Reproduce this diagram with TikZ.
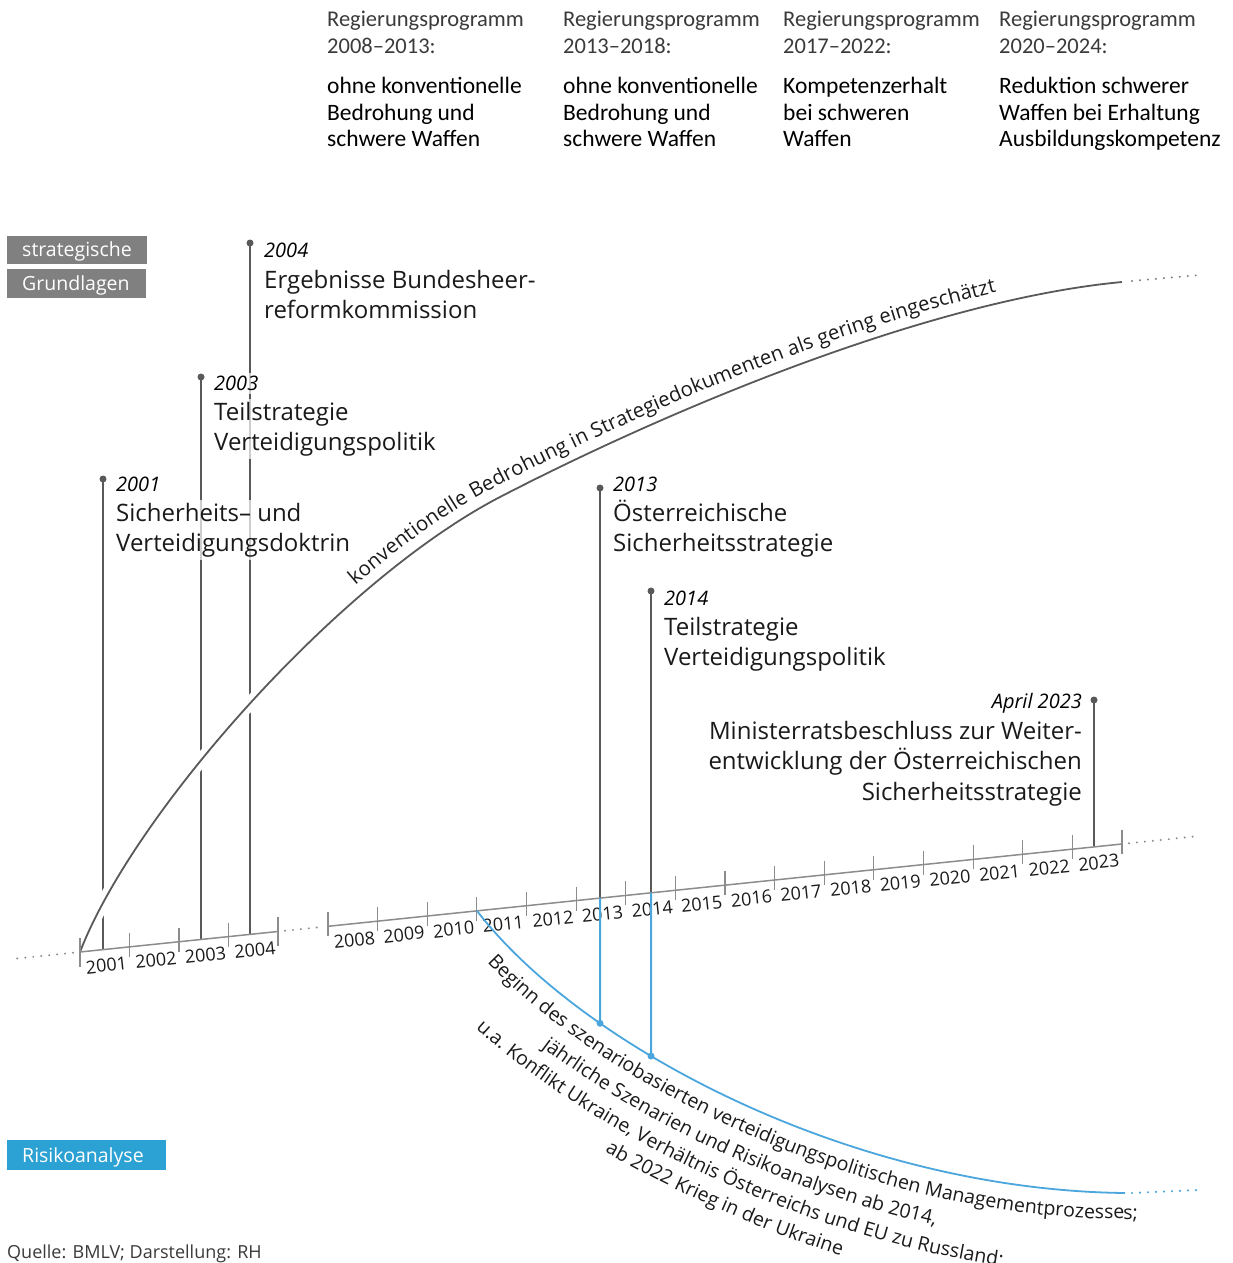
\documentclass[tikz,border=0pt]{standalone}
\usepackage{fontspec}
\setmainfont{Open Sans}
\newfontfamily\hdrfont{Carlito}
\usetikzlibrary{decorations.text,intersections,calc}
\definecolor{darkline}{HTML}{595959}
\definecolor{axiscol}{HTML}{8C8C8C}
\definecolor{bluecol}{HTML}{4BA6DD}
\definecolor{boxgray}{HTML}{808080}
\definecolor{boxblue}{HTML}{2CA1D3}
\definecolor{txt}{HTML}{1A1A1A}
\definecolor{hdrgray}{HTML}{3A3A3A}
\newcommand\curvetxtfont{\fontsize{20.3}{24}\selectfont\color{txt}}
\newcommand\bluetxtfont{\fontsize{19.5}{22}\selectfont\color{txt}}
\begin{document}
\begin{tikzpicture}[x=1pt,y=-1pt,
  declare function={ay(\t)=952-0.10365*(\t-80);},
  darkvert/.style={draw=darkline,line width=2pt},
  bluevert/.style={draw=bluecol,line width=2pt},
  gdot/.style={circle,fill=darkline,inner sep=0pt,minimum size=7pt},
  bdot/.style={circle,fill=bluecol,inner sep=0pt,minimum size=7pt},
  yearlbl/.style={font=\fontsize{20}{24}\selectfont\itshape,text=black,inner xsep=1pt,inner ysep=0pt,text height=17pt,text depth=4pt,fill=white,fill opacity=0.7,text opacity=1,anchor=base west},
  bodylbl/.style={font=\fontsize{24}{30}\selectfont,text=txt,inner xsep=1pt,inner ysep=0pt,text height=21pt,text depth=9pt,fill=white,fill opacity=0.7,text opacity=1,anchor=base west},
  ticklbl/.style={font=\fontsize{18}{20}\selectfont,text=txt,rotate=6,inner sep=0pt},
  hdrA/.style={font=\hdrfont\fontsize{22.5}{26}\selectfont,text=hdrgray,anchor=base west,inner sep=0pt},
  hdrB/.style={font=\hdrfont\fontsize{23.5}{26}\selectfont,text=black,anchor=base west,inner sep=0pt},
  tagbox/.style={rectangle,inner sep=0pt,draw=none},
  tagtext/.style={font=\fontsize{19.5}{22}\selectfont,text=white,anchor=base west,inner sep=0pt},
  axisline/.style={draw=axiscol,line width=1.5pt},
  tickline/.style={draw=axiscol,line width=1.2pt},
  dotline/.style={draw=axiscol,line width=2.2pt,line cap=round,dash pattern=on 0pt off 8pt},
  bluedotline/.style={draw=bluecol,line width=2.4pt,line cap=round,dash pattern=on 0pt off 8pt},
  graycurve/.style={draw=darkline,line width=1.8pt},
  bluecurve/.style={draw=bluecol,line width=1.8pt}
]
\useasboundingbox (0,0) rectangle (1232,1263);

% ---------- header ----------
\node[hdrA] (h1a) at (327,27) {Regierungsprogramm};
\node[hdrA] (h1b) at (327,53) {2008–2013:};
\node[hdrB] (h1c) at (327,93) {ohne konventionelle};
\node[hdrB] (h1d) at (327,120) {Bedrohung und};
\node[hdrB] (h1e) at (327,146) {schwere Waffen};
\node[hdrA] (h2a) at (563,27) {Regierungsprogramm};
\node[hdrA] (h2b) at (563,53) {2013–2018:};
\node[hdrB] (h2c) at (563,93) {ohne konventionelle};
\node[hdrB] (h2d) at (563,120) {Bedrohung und};
\node[hdrB] (h2e) at (563,146) {schwere Waffen};
\node[hdrA] (h3a) at (783,27) {Regierungsprogramm};
\node[hdrA] (h3b) at (783,53) {2017–2022:};
\node[hdrB] (h3c) at (783,93) {Kompetenzerhalt};
\node[hdrB] (h3d) at (783,120) {bei schweren};
\node[hdrB] (h3e) at (783,146) {Waffen};
\node[hdrA] (h4a) at (999,27) {Regierungsprogramm};
\node[hdrA] (h4b) at (999,53) {2020–2024:};
\node[hdrB] (h4c) at (999,93) {Reduktion schwerer};
\node[hdrB] (h4d) at (999,120) {Waffen bei Erhaltung};
\node[hdrB] (h4e) at (999,146) {Ausbildungskompetenz};

% ---------- tags ----------
\node[tagbox,fill=boxgray,minimum width=140pt,minimum height=28pt] (tagA) at (77,250) {};
\node[tagtext] (tagAt) at (22,256) {strategische};
\node[tagbox,fill=boxgray,minimum width=139pt,minimum height=29pt] (tagB) at (76.5,283.5) {};
\node[tagtext] (tagBt) at (22,290) {Grundlagen};
\node[tagbox,fill=boxblue,minimum width=159pt,minimum height=30pt] (tagC) at (86.5,1155) {};
\node[tagtext] (tagCt) at (22,1162) {Risikoanalyse};
\node[anchor=base west,inner sep=0pt,font=\fontsize{18}{20}\selectfont,text=hdrgray] (src) at (7,1258) {Quelle: BMLV; Darstellung: RH};

% ---------- axis ----------
\coordinate (axL) at (10,{ay(10)});
\coordinate (ax0) at (80,{ay(80)});
\coordinate (ax1) at (278,{ay(278)});
\coordinate (ax2) at (328,{ay(328)});
\coordinate (ax3) at (1122,{ay(1122)});
\coordinate (axR) at (1195,{ay(1195)});

% ---------- vertical event lines (gray) ----------
\foreach \nm/\x/\y in {01/103/479, 03/201/377, 04/250/243, 13/600/488, 14/651/591, 23/1094/700}{
  \coordinate (a\nm) at (\x,{ay(\x)});
  \draw[darkvert] (\x,\y) -- (a\nm);
  \node[gdot] (e\nm) at (\x,\y) {};
}

% ---------- gray curve ----------
\begin{scope}
  \clip (0,0) rectangle (1232,925);
  \draw[white,line width=13pt] (ax0) .. controls (134,812) and (340,580) .. (500,497);
\end{scope}
\draw[graycurve] (ax0) .. controls (134,812) and (340,580) .. (500,497) .. controls (670,409) and (930,300) .. (1122,282);
\coordinate (gc1) at (1132,281);
\coordinate (gc2) at (1200,275);
\draw[dotline,draw=darkline!80] (gc1) -- (gc2);
\path[decorate,decoration={text along path,text={|\curvetxtfont|konventionelle Bedrohung in Strategiedokumenten als gering eingeschätzt},text align={left indent=460pt},raise=11pt}]
  (ax0) .. controls (134,812) and (340,580) .. (500,497) .. controls (670,409) and (930,300) .. (1122,282);

% ---------- axis drawing ----------
\draw[axisline] (ax0) -- (ax1);
\draw[axisline] (ax2) -- (ax3);
\draw[dotline] ($(ax0)!7pt!(axL)$) -- (axL);
\draw[dotline] ($(ax1)!7pt!(ax2)$) -- ($(ax2)!5pt!(ax1)$);
\draw[dotline] ($(ax3)!7pt!(axR)$) -- (axR);
\foreach \x/\dn in {80/15, 129.5/10, 179/10, 228.5/10, 278/15}{
  \draw[tickline] (\x,{ay(\x)-14}) -- (\x,{ay(\x)+\dn});
}
\foreach \k in {0,...,16}{
  \pgfmathsetmacro\xx{328+49.625*\k}
  \draw[tickline] (\xx,{ay(\xx)-14}) -- (\xx,{ay(\xx)+10});
}
\foreach \i in {0,...,3}{
  \pgfmathsetmacro\mx{80+49.5*(\i+0.5)}
  \pgfmathtruncatemacro\yr{2001+\i}
  \node[ticklbl] (yr\yr) at ({\mx+1.6},{ay(\mx)+16}) {\yr};
}
\foreach \i in {0,...,15}{
  \pgfmathsetmacro\mx{328+49.625*(\i+0.5)}
  \pgfmathtruncatemacro\yr{2008+\i}
  \node[ticklbl] (yr\yr) at ({\mx+1.6},{ay(\mx)+16}) {\yr};
}

% ---------- blue curve ----------
\coordinate (bc0) at (477,{ay(477)});
\coordinate (bc3) at (1125,1193);
\draw[bluecurve,name path=bluec] (bc0) .. controls (580,1045) and (850,1190) .. (bc3);
\coordinate (bd1) at (1132,1193);
\coordinate (bd2) at (1198,1190);
\draw[bluedotline] (bd1) -- (bd2);
\path[name path=v13] (600,{ay(600)}) -- (600,1150);
\path[name path=v14] (651,{ay(651)}) -- (651,1150);
\path[name intersections={of=bluec and v13,by={b13}}];
\path[name intersections={of=bluec and v14,by={b14}}];
\draw[bluevert] (a13) -- (b13);
\draw[bluevert] (a14) -- (b14);
\node[bdot] (bdot13) at (b13) {};
\node[bdot] (bdot14) at (b14) {};

% blue texts along offset curves
\path[decorate,decoration={text along path,text={|\bluetxtfont|Beginn des szenariobasierten verteidigungspolitischen Managementprozesses;},text align=center}]
  (450.2,917.9) -- (456.3,925.8) .. controls (556.2,1063.1) and (849.7,1219.9) .. (1124.7,1219) -- ++(71,0);
\path[decorate,decoration={text along path,text={|\bluetxtfont|jährliche Szenarien und Risikoanalysen ab 2014,},text align=center}]
  (404,901.6) -- (434.9,942.1) .. controls (531.6,1082.0) and (849.3,1250.95) .. (1124.4,1246) -- ++(10,0);
\path[decorate,decoration={text along path,text={|\bluetxtfont|u.a. Konflikt Ukraine, Verhältnis Österreichs und EU zu Russland;},text align=center}]
  (389.7,927.5) -- (413.4,958.5) .. controls (506.9,1100.8) and (849,1282) .. (1124.1,1273) -- ++(10,0);
\path[decorate,decoration={text along path,text={|\bluetxtfont|ab 2022 Krieg in der Ukraine},text align=center}]
  (380,957.6) -- (392.7,974.3) .. controls (483.1,1118.9) and (848.7,1311.9) .. (1123.8,1299) -- ++(12,0);

% ---------- event labels ----------
\node[yearlbl] (y01) at (115,491) {2001};
\node[bodylbl] (l01a) at (115,521) {Sicherheits– und};
\node[bodylbl] (l01b) at (115,551) {Verteidigungsdoktrin};
\node[yearlbl] (y03) at (213,390) {2003};
\node[bodylbl] (l03a) at (213,420) {Teilstrategie};
\node[bodylbl] (l03b) at (213,450) {Verteidigungspolitik};
\node[yearlbl] (y04) at (263,257) {2004};
\node[bodylbl] (l04a) at (263,288) {Ergebnisse Bundesheer-};
\node[bodylbl] (l04b) at (263,318) {reformkommission};
\node[yearlbl] (y13) at (612,491) {2013};
\node[bodylbl] (l13a) at (612,521) {Österreichische};
\node[bodylbl] (l13b) at (612,551) {Sicherheitsstrategie};
\node[yearlbl] (y14) at (663,605) {2014};
\node[bodylbl] (l14a) at (663,635) {Teilstrategie};
\node[bodylbl] (l14b) at (663,665) {Verteidigungspolitik};
\node[yearlbl,anchor=base east] (y23) at (1083,708) {April 2023};
\node[bodylbl,anchor=base east] (l23a) at (1083,739) {Ministerratsbeschluss zur Weiter-};
\node[bodylbl,anchor=base east] (l23b) at (1083,769) {entwicklung der Österreichischen};
\node[bodylbl,anchor=base east] (l23c) at (1083,800) {Sicherheitsstrategie};
\end{tikzpicture}
\end{document}
